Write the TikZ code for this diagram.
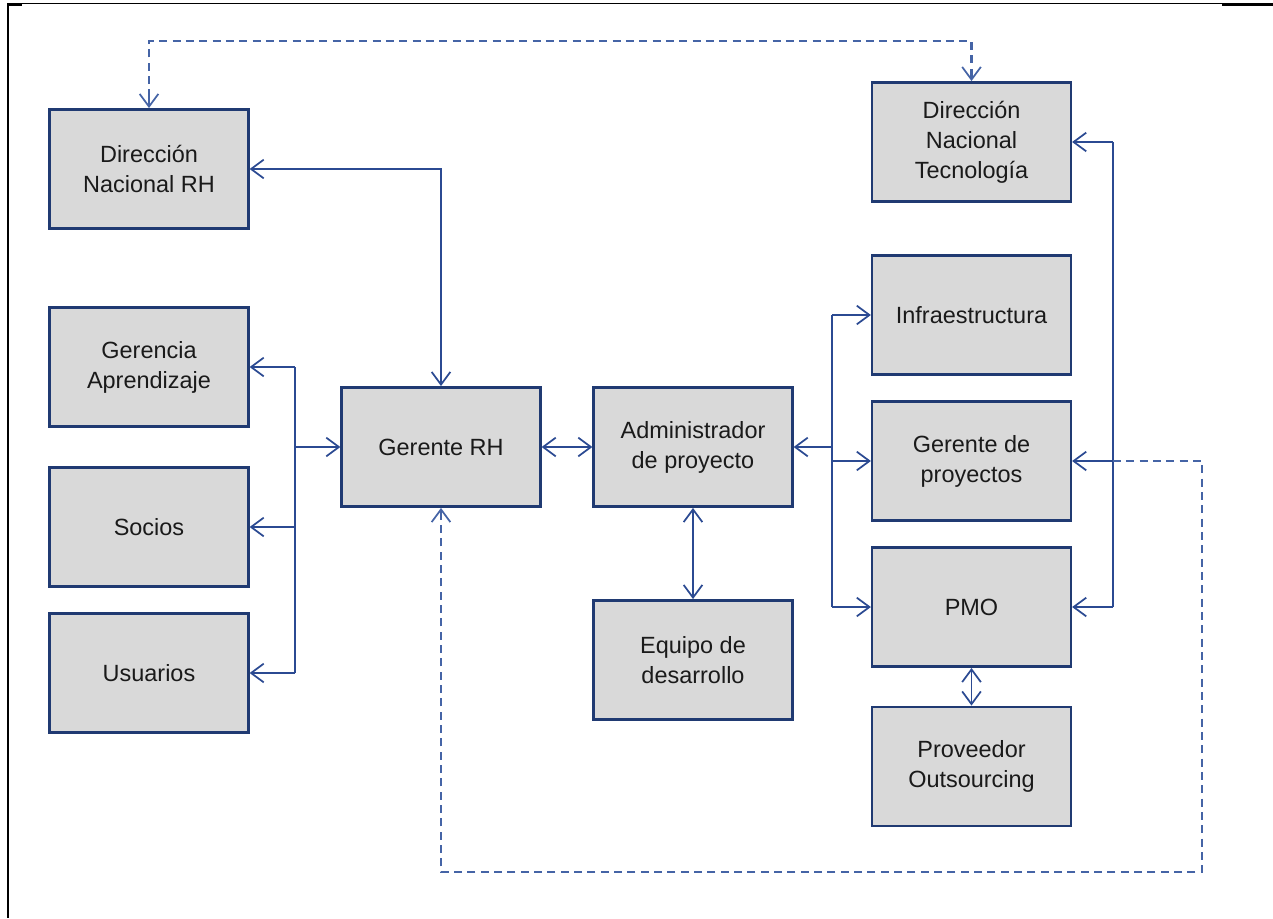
\documentclass[tikz,border=0pt]{standalone}
\usepackage{fontspec}
\setmainfont{Liberation Sans}
\usetikzlibrary{arrows.meta}
\definecolor{boxfill}{HTML}{D9D9D9}
\definecolor{boxline}{HTML}{203A72}
\definecolor{conn}{HTML}{2B4A92}
\definecolor{dashc}{HTML}{4564A6}
\definecolor{txt}{HTML}{1A1A1A}
\tikzset{
  barb/.tip={Straight Barb[length=9.5pt,width=14pt,line width=1.3pt]}
}
\begin{document}
\begin{tikzpicture}[x=0.75pt,y=-0.75pt,
  unit/.style={draw=boxline,line width=1.9pt,fill=boxfill,minimum width=149pt,minimum height=89.5pt,
    inner sep=0pt,align=center,text=txt,font=\fontsize{17.6pt}{22.5pt}\selectfont},
  link/.style={draw=conn,line width=1.4pt,arrows={-barb}},
  both/.style={draw=conn,line width=1.4pt,arrows={barb-barb}},
  dlink/.style={draw=dashc,line width=1.6pt,dash pattern=on 6pt off 4pt},
  frame/.style={draw=black}]
\useasboundingbox (0,0) rectangle (1273,918);
% page frame
\draw[frame,line width=2.2pt] (8,3) -- (8,918);
\draw[frame,line width=0.9pt] (8,3.5) -- (1222,3.5);
\draw[frame,line width=1.8pt] (7,4.5) -- (22,4.5);
\draw[frame,line width=1.8pt] (1222,4.5) -- (1273,4.5);

% units
\node[unit] (drh)  at (149,169)   {Dirección\\Nacional RH};
\node[unit] (dnt)  at (971.5,142) {Dirección\\Nacional\\Tecnología};
\node[unit] (ga)   at (149,367)   {Gerencia\\Aprendizaje};
\node[unit] (soc)  at (149,527)   {Socios};
\node[unit] (usu)  at (149,673)   {Usuarios};
\node[unit] (grh)  at (441,447)   {Gerente RH};
\node[unit] (adm)  at (693,447)   {Administrador\\de proyecto};
\node[unit] (eq)   at (693,660)   {Equipo de\\desarrollo};
\node[unit] (inf)  at (971.5,315) {Infraestructura};
\node[unit] (gp)   at (971.5,461) {Gerente de\\proyectos};
\node[unit] (pmo)  at (971.5,607) {PMO};
\node[unit] (prov) at (971.5,766.5) {Proveedor\\Outsourcing};

% junction points of the buses
\coordinate (lb) at (295,447);
\coordinate (rb) at (832,447);
\coordinate (fb) at (1113,461);
\coordinate (dc) at (1202,872);
\coordinate (tp) at (560,41);

% Dirección Nacional RH <-> Gerente RH
\draw[both] (drh.east) -| (grh.north);

% left bus
\draw[link,arrows=-] (lb |- ga.east) -- (lb |- usu.east);
\draw[link] (lb |- ga.east) -- (ga.east);
\draw[link] (lb |- soc.east) -- (soc.east);
\draw[link] (lb |- usu.east) -- (usu.east);
\draw[link] (lb) -- (grh.west);

% Gerente RH <-> Administrador
\draw[both] (grh.east) -- (adm.west);

% Administrador <-> Equipo de desarrollo
\draw[both] (adm.south) -- (eq.north);

% right bus
\draw[link,arrows=-] (rb |- inf.west) -- (rb |- pmo.west);
\draw[link] (rb) -- (adm.east);
\draw[link] (rb |- inf.west) -- (inf.west);
\draw[link] (rb |- gp.west) -- (gp.west);
\draw[link] (rb |- pmo.west) -- (pmo.west);

% PMO <-> Proveedor
\draw[both] (pmo.south) -- (prov.north);

% far right bus
\draw[link,arrows=-] (fb |- dnt.east) -- (fb |- pmo.east);
\draw[link] (fb |- dnt.east) -- (dnt.east);
\draw[link] (fb) -- (gp.east);
\draw[link] (fb |- pmo.east) -- (pmo.east);

% dashed loop back to Gerente RH
\draw[dlink] (fb) -- (dc |- fb) -- (dc) -| ([yshift=-8pt]grh.south);
\draw[link,draw=dashc,line width=1.6pt] ([yshift=-8pt]grh.south) -- (grh.south);

% dashed link between the two national directions
\draw[dlink] ([yshift=8pt]drh.north) |- (tp) -| ([yshift=8pt]dnt.north);
\draw[link,draw=dashc,line width=1.6pt] ([yshift=8pt]drh.north) -- (drh.north);
\draw[link,draw=dashc,line width=1.6pt] ([yshift=8pt]dnt.north) -- (dnt.north);
\end{tikzpicture}
\end{document}
